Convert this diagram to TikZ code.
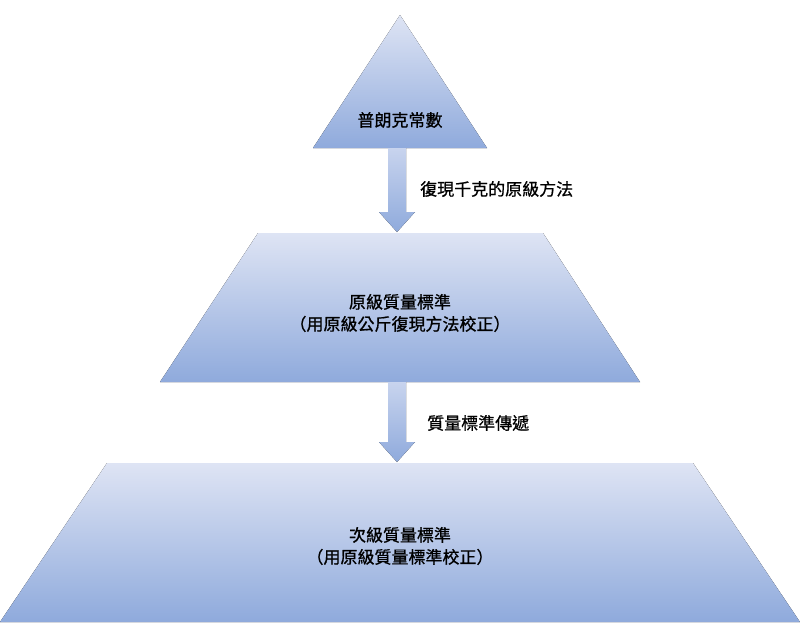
\documentclass[tikz,border=0pt]{standalone}
\usepackage{fontspec}
\setmainfont[FakeBold=0.8,AutoFakeBold=0.8]{Noto Sans CJK TC}
\usetikzlibrary{calc}
\definecolor{lighttop}{RGB}{222,228,244}
\definecolor{darkbottom}{RGB}{143,170,220}
\tikzstyle{level}=[top color=lighttop, bottom color=darkbottom, draw=none]
\tikzstyle{flow}=[top color={rgb,255:red,200;green,212;blue,238}, bottom color=darkbottom, draw=none]
\tikzstyle{lab}=[font=\fontsize{17}{22}\selectfont\bfseries, align=center, inner sep=0pt]
% arrow from #1 down to #2
\newcommand{\downflow}[2]{
  \fill[flow] ($(#1)+(-9,0)$) -- ($(#1)+(9,0)$) -- ($(#2)+(9,-20)$) -- ($(#2)+(18,-20)$)
    -- (#2) -- ($(#2)+(-18,-20)$) -- ($(#2)+(-9,-20)$) -- cycle;
}
\begin{document}
\begin{tikzpicture}[x=1pt,y=-1pt]
	\useasboundingbox (0,0) rectangle (800,630);
	% levels
	\fill[level] (400,15) -- (487,148) -- (313,148) -- cycle;
	\fill[level] (258,233) -- (543,233) -- (640,382) -- (160,382) -- cycle;
	\fill[level] (107,463) -- (693,463) -- (800,622) -- (0,622) -- cycle;
	\node[lab] (planck) at (400,120) {普朗克常數};
	\node[lab] (primary) at (400,313) {原級質量標準\\（用原級公斤復現方法校正）};
	\node[lab] (secondary) at (400,546) {次級質量標準\\（用原級質量標準校正）};
	% arrows
	\coordinate (a1s) at (397,148);
	\coordinate (a1e) at (397,232);
	\coordinate (a2s) at (397,382);
	\coordinate (a2e) at (397,462);
	\downflow{a1s}{a1e}
	\downflow{a2s}{a2e}
	\node[lab, anchor=west] (method) at (420,189) {復現千克的原級方法};
	\node[lab, anchor=west] (transfer) at (427,423) {質量標準傳遞};
\end{tikzpicture}
\end{document}
